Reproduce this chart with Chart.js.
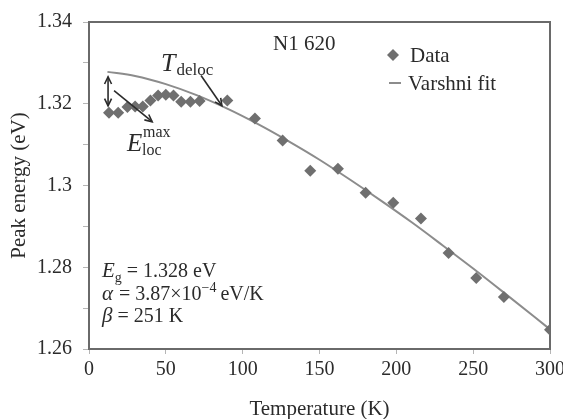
<!DOCTYPE html>
<html>
<head>
<meta charset="utf-8">
<script src="https://cdn.jsdelivr.net/npm/chart.js@4.4.0/dist/chart.umd.min.js"></script>
<style>
  html, body { margin: 0; padding: 0; background: #fff; }
</style>
</head>
<body>
<canvas id="chart" width="563" height="419"></canvas>
<script>
// measured peak energies (K, eV)
const temps = [13, 19, 25, 30, 35, 40, 45, 50, 55, 60, 66, 72, 90, 108, 126, 144, 162, 180, 198, 216, 234, 252, 270, 300];
const energies = [1.3178, 1.3178, 1.3192, 1.3193, 1.3193, 1.3208, 1.3220, 1.3222, 1.3220, 1.3205, 1.3205, 1.3207, 1.3208,
                  1.3164, 1.3110, 1.3036, 1.3041, 1.2982, 1.2958, 1.2919, 1.2835, 1.2774, 1.2727, 1.2647];

// Varshni fit curve
const fitTemps = [12, 30, 50, 70, 90, 110, 130, 150, 170, 190, 210, 230, 250, 270, 300];
const fitEnergies = [1.3278, 1.3268, 1.3248, 1.3221, 1.3188, 1.3150, 1.3108, 1.3063, 1.3014, 1.2963, 1.2910, 1.2854, 1.2797, 1.2738, 1.2648];

const xTickLabels = ['0', '50', '100', '150', '200', '250', '300'];
const yTickLabels = ['1.26', '1.28', '1.3', '1.32', '1.34'];

const SERIF = '"Liberation Serif", "Times New Roman", serif';
const TEXT = '#2b2b2b';

function font(size, italic) {
  return (italic ? 'italic ' : '') + size + 'px ' + SERIF;
}

// draws text pieces one after another (for sub/superscripts)
function richText(ctx, x, y, parts) {
  parts.forEach(p => {
    ctx.font = font(p.size, p.italic);
    ctx.fillText(p.text, x, y + (p.dy || 0));
    x += ctx.measureText(p.text).width + (p.gap || 0);
  });
}

function chevron(ctx, x1, y1, x2, y2) {
  const a = Math.atan2(y2 - y1, x2 - x1);
  const len = 8, spread = 0.45;
  ctx.beginPath();
  ctx.moveTo(x2 - len * Math.cos(a - spread), y2 - len * Math.sin(a - spread));
  ctx.lineTo(x2, y2);
  ctx.lineTo(x2 - len * Math.cos(a + spread), y2 - len * Math.sin(a + spread));
  ctx.stroke();
}

function arrow(ctx, x1, y1, x2, y2, both) {
  ctx.beginPath();
  ctx.moveTo(x1, y1);
  ctx.lineTo(x2, y2);
  ctx.stroke();
  chevron(ctx, x1, y1, x2, y2);
  if (both) chevron(ctx, x2, y2, x1, y1);
}

const framePlugin = {
  id: 'frame',
  beforeDatasetsDraw(chart) {
    const { ctx, chartArea: a } = chart;
    ctx.save();
    ctx.strokeStyle = '#6a6a6a';
    ctx.lineWidth = 2;
    ctx.strokeRect(a.left, a.top, a.right - a.left, a.bottom - a.top);
    ctx.restore();
  }
};

const notesPlugin = {
  id: 'notes',
  afterDraw(chart) {
    const { ctx } = chart;
    const x = chart.scales.x, y = chart.scales.y;
    const px = v => x.getPixelForValue(v);
    const py = v => y.getPixelForValue(v);

    ctx.save();
    ctx.fillStyle = TEXT;
    ctx.textBaseline = 'alphabetic';
    ctx.textAlign = 'left';

    // sample name
    ctx.font = font(21);
    ctx.fillText('N1 620', 273, 50);

    // legend
    ctx.fillStyle = '#6f6f6f';
    ctx.beginPath();
    ctx.moveTo(393, 49); ctx.lineTo(399, 55); ctx.lineTo(393, 61); ctx.lineTo(387, 55);
    ctx.closePath();
    ctx.fill();
    ctx.strokeStyle = '#8c8c8c';
    ctx.lineWidth = 2;
    ctx.beginPath();
    ctx.moveTo(389, 83); ctx.lineTo(401, 83);
    ctx.stroke();
    ctx.fillStyle = TEXT;
    ctx.font = font(21);
    ctx.fillText('Data', 410, 62);
    ctx.fillText('Varshni fit', 408, 90);

    // arrows
    ctx.strokeStyle = '#2b2b2b';
    ctx.lineWidth = 1.6;
    arrow(ctx, px(12.4), py(1.3266), px(12.4), py(1.3195), true);
    arrow(ctx, px(16.3), py(1.3232), px(41.1), py(1.3156), false);
    arrow(ctx, px(72.9), py(1.3269), px(86.5), py(1.3195), false);

    // annotation labels
    richText(ctx, 161, 71, [
      { text: 'T', size: 26, italic: true, gap: 1 },
      { text: 'deloc', size: 17, dy: 4 }
    ]);
    ctx.font = font(25, true);
    ctx.fillText('E', 127, 151);
    ctx.font = font(16);
    ctx.fillText('max', 143, 137);
    ctx.fillText('loc', 142, 155);

    // fit parameters
    richText(ctx, 102, 277, [
      { text: 'E', size: 21, italic: true },
      { text: 'g', size: 14, dy: 5, gap: 5 },
      { text: '= 1.328 eV', size: 20 }
    ]);
    richText(ctx, 102, 300, [
      { text: 'α', size: 21, italic: true, gap: 6 },
      { text: '= 3.87×10', size: 20 },
      { text: '−4', size: 14, dy: -8, gap: 4 },
      { text: 'eV/K', size: 20 }
    ]);
    richText(ctx, 102, 322, [
      { text: 'β', size: 21, italic: true, gap: 5 },
      { text: '= 251 K', size: 20 }
    ]);
    ctx.restore();
  }
};

const pts = temps.map((t, i) => ({ x: t, y: energies[i] }));
const fitPts = fitTemps.map((t, i) => ({ x: t, y: fitEnergies[i] }));

new Chart(document.getElementById('chart'), {
  type: 'scatter',
  data: {
    datasets: [{
      label: 'Data',
      data: pts,
      pointStyle: 'rectRot',
      pointRadius: 6,
      pointBackgroundColor: '#6f6f6f',
      pointBorderWidth: 0,
      showLine: false
    }, {
      label: 'Varshni fit',
      data: fitPts,
      showLine: true,
      pointRadius: 0,
      borderColor: '#8c8c8c',
      borderWidth: 2,
      cubicInterpolationMode: 'monotone'
    }]
  },
  options: {
    responsive: false,
    animation: false,
    devicePixelRatio: 1,
    layout: { padding: 0 },
    plugins: {
      legend: { display: false },
      tooltip: { enabled: false }
    },
    scales: {
      x: {
        type: 'linear',
        min: 0,
        max: 300,
        afterFit(s) { s.height = 70; s.paddingRight = 13; s.paddingLeft = 0; },
        border: { display: true, color: '#6a6a6a', width: 2 },
        grid: { drawOnChartArea: false, drawTicks: true, tickLength: 5, tickColor: '#b5b5b5' },
        ticks: {
          stepSize: 50,
          padding: 4,
          color: TEXT,
          font: { family: SERIF, size: 20 },
          callback: (v, i) => xTickLabels[i]
        },
        title: {
          display: true,
          text: 'Temperature (K)',
          color: TEXT,
          font: { family: SERIF, size: 21, lineHeight: 0.9 },
          padding: { top: 0, bottom: 0 }
        }
      },
      y: {
        type: 'linear',
        min: 1.26,
        max: 1.34,
        afterFit(s) { s.width = 89; s.paddingTop = 22; s.paddingBottom = 0; },
        border: { display: true, color: '#6a6a6a', width: 2 },
        grid: { drawOnChartArea: false, drawTicks: true, tickLength: 6, tickColor: '#b5b5b5' },
        ticks: {
          stepSize: 0.01,
          padding: 11,
          autoSkip: false,
          color: TEXT,
          font: { family: SERIF, size: 20 },
          callback: (v, i) => (i % 2 === 0 ? yTickLabels[i / 2] : '')
        },
        title: {
          display: true,
          text: 'Peak energy (eV)',
          color: TEXT,
          font: { family: SERIF, size: 21, lineHeight: 1.2 },
          padding: { top: 7, bottom: 0 }
        }
      }
    }
  },
  plugins: [framePlugin, notesPlugin]
});
</script>
</body>
</html>
